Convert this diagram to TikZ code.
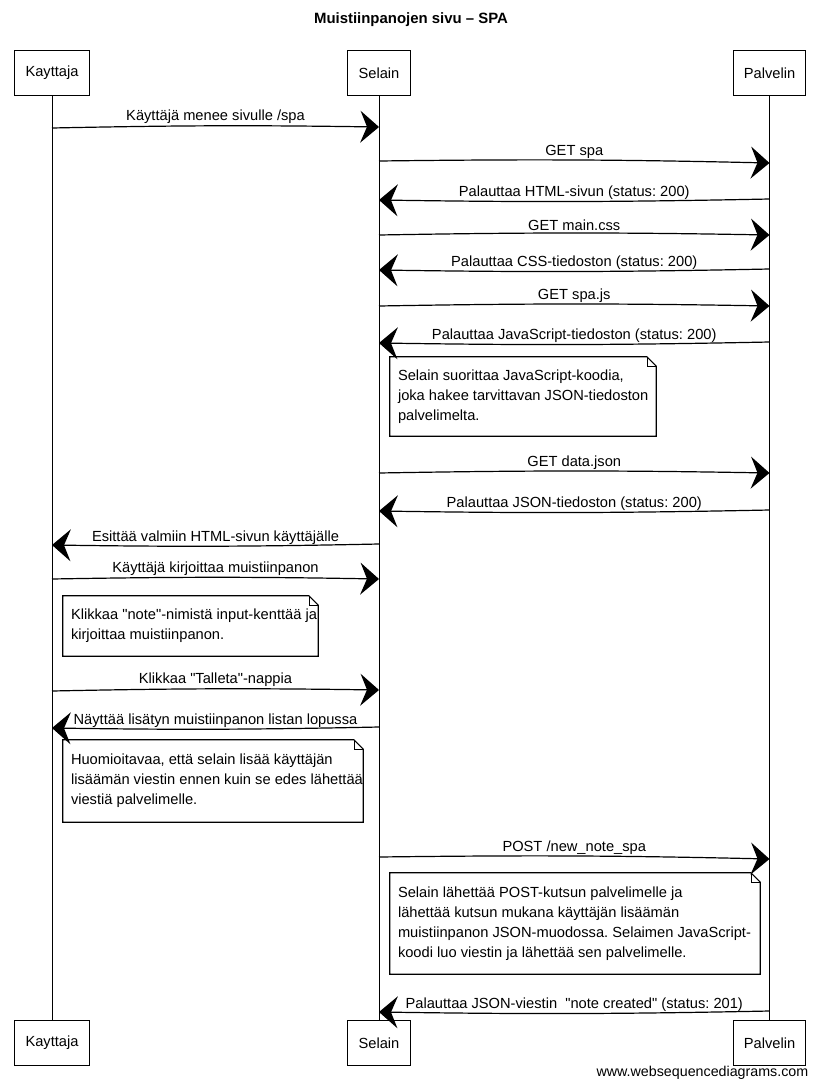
\documentclass[tikz,border=0pt]{standalone}
\usepackage{fontspec}
\setmainfont{Liberation Sans}[Ligatures=TeXOff]
\usetikzlibrary{arrows.meta}
\frenchspacing
% straight double quote
\newcommand\dq{\symbol{34}}
% outline of a note: rectangle with a folded top-right corner
\newcommand\notecorner[1]{%
  \draw[line width=0.8pt] (#1.north west) -- ([xshift=-7pt]#1.north east)
    -- ([yshift=-7pt]#1.north east) -- (#1.south east) -- (#1.south west) -- cycle;
  \draw[line width=0.5pt] ([xshift=-7pt]#1.north east) -- ([xshift=-7pt,yshift=-7pt]#1.north east)
    -- ([yshift=-7pt]#1.north east);}
\begin{document}
\begin{tikzpicture}[x=0.75pt,y=-0.75pt,
  font=\fontsize{11pt}{15pt}\selectfont,
  actor/.style={draw, line width=0.8pt, rectangle, minimum height=34pt, inner xsep=8pt},
  life/.style={line width=0.6pt},
  msg/.style={line width=0.9pt, -{Stealth[length=14pt,width=24pt,inset=5pt]}},
  lbl/.style={above, inner sep=1pt, pos=0.5},
  notebox/.style={inner sep=0pt},
  notetext/.style={align=left, inner sep=0pt, anchor=west}]
\useasboundingbox (0,0) rectangle (821,1089);

% title
\node[font=\fontsize{11.2pt}{13pt}\selectfont\bfseries] (title) at (411,20) {Muistiinpanojen sivu – SPA};

% participants, top and bottom
\node[actor] (kt) at (52,73) {Kayttaja};
\node[actor] (st) at (379,73) {Selain};
\node[actor] (pt) at (769.5,73) {Palvelin};
\node[actor] (kb) at (52,1043) {Kayttaja};
\node[actor] (sb) at (379,1043) {Selain};
\node[actor] (pb) at (769.5,1043) {Palvelin};

% lifelines
\draw[life] (kt) -- (kb);
\draw[life] (st) -- (sb);
\draw[life] (pt) -- (pb);

% messages
\draw[msg] (kt |- 0,128) to[bend left=1] node[lbl] {Käyttäjä menee sivulle /spa} (st |- 0,127);
\draw[msg] (st |- 0,161) to[bend left=1] node[lbl] {GET spa} (pt |- 0,163);
\draw[msg] (pt |- 0,199) to[bend left=1] node[lbl] {Palauttaa HTML-sivun (status: 200)} (st |- 0,200);
\draw[msg] (st |- 0,235) to[bend left=1] node[lbl] {GET main.css} (pt |- 0,235);
\draw[msg] (pt |- 0,269) to[bend left=1] node[lbl] {Palauttaa CSS-tiedoston (status: 200)} (st |- 0,270);
\draw[msg] (st |- 0,306) to[bend left=1] node[lbl] {GET spa.js} (pt |- 0,306);
\draw[msg] (pt |- 0,342) to[bend left=1] node[lbl] {Palauttaa JavaScript-tiedoston (status: 200)} (st |- 0,343);

\node[notebox, minimum width=199.5pt, minimum height=59.25pt] (n1) at (523,396.5) {};
\notecorner{n1}
\node[notetext] (n1t) at ([xshift=6pt]n1.west) {Selain suorittaa JavaScript-koodia,\\joka hakee tarvittavan JSON-tiedoston\\palvelimelta.};

\draw[msg] (st |- 0,473) to[bend left=1] node[lbl] {GET data.json} (pt |- 0,473);
\draw[msg] (pt |- 0,510) to[bend left=1] node[lbl] {Palauttaa JSON-tiedoston (status: 200)} (st |- 0,511);
\draw[msg] (st |- 0,544) to[bend left=1] node[lbl] {Esittää valmiin HTML-sivun käyttäjälle} (kt |- 0,545);
\draw[msg] (kt |- 0,579) to[bend left=1] node[lbl] {Käyttäjä kirjoittaa muistiinpanon} (st |- 0,579);

\node[notebox, minimum width=191.25pt, minimum height=45pt] (n2) at (190.5,626) {};
\notecorner{n2}
\node[notetext] (n2t) at ([xshift=6pt]n2.west) {Klikkaa \dq note\dq-nimistä input-kenttää ja\\kirjoittaa muistiinpanon.};

\draw[msg] (kt |- 0,691) to[bend left=1] node[lbl] {Klikkaa \dq Talleta\dq-nappia} (st |- 0,690);
\draw[msg] (st |- 0,727) to[bend left=1] node[lbl] {Näyttää lisätyn muistiinpanon listan lopussa} (kt |- 0,728);

\node[notebox, minimum width=225pt, minimum height=61.5pt] (n3) at (213,781) {};
\notecorner{n3}
\node[notetext] (n3t) at ([xshift=6pt]n3.west) {Huomioitavaa, että selain lisää käyttäjän\\lisäämän viestin ennen kuin se edes lähettää\\viestiä palvelimelle.};

\draw[msg] (st |- 0,857) to[bend left=1] node[lbl] {POST /new\_note\_spa} (pt |- 0,859);

\node[notebox, minimum width=277.5pt, minimum height=75.75pt] (n4) at (575,923.5) {};
\notecorner{n4}
\node[notetext] (n4t) at ([xshift=6pt]n4.west) {Selain lähettää POST-kutsun palvelimelle ja\\lähettää kutsun mukana käyttäjän lisäämän\\muistiinpanon JSON-muodossa. Selaimen JavaScript-\\koodi luo viestin ja lähettää sen palvelimelle.};

\draw[msg] (pt |- 0,1011) to[bend left=1] node[lbl] {Palauttaa JSON-viestin\ \ \dq note created\dq\ (status: 201)} (st |- 0,1012);

% footer
\node[anchor=east, font=\fontsize{10.7pt}{12pt}\selectfont] (web) at (813,1073) {www.websequencediagrams.com};
\end{tikzpicture}
\end{document}
